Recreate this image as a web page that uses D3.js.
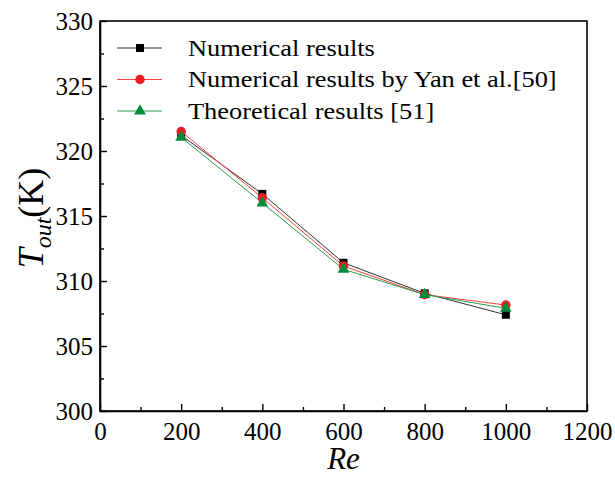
<!DOCTYPE html>
<html>
<head>
<meta charset="utf-8">
<script src="https://cdn.jsdelivr.net/npm/d3@7"></script>
</head>
<body style="margin:0;background:#fff">
<div id="chart"></div>
<script>
// values
const reValues = [200, 400, 600, 800, 1000];
const numerical = [321.2, 316.7, 311.4, 309.05, 307.4];
const yanResults = [321.5, 316.4, 311.15, 308.95, 308.15];
const theoretical = [321.05, 316.0, 310.9, 308.95, 307.9];
const seriesNames = ["Numerical results", "Numerical results by Yan et al.[50]", "Theoretical results [51]"];
const xTicks = [0, 200, 400, 600, 800, 1000, 1200];
const yTicks = [300, 305, 310, 315, 320, 325, 330];

const serif = "Liberation Serif";
const width = 615, height = 479;
const margin = {left: 100, right: 28, top: 21, bottom: 68};

const svg = d3.select("#chart").append("svg")
    .attr("width", width)
    .attr("height", height);

const x = d3.scaleLinear().domain([0, 1200]).range([margin.left, width - margin.right]);
const y = d3.scaleLinear().domain([300, 330]).range([height - margin.bottom, margin.top]);

// frame
svg.append("rect")
    .attr("x", x(0)).attr("y", y(330))
    .attr("width", x(1200) - x(0)).attr("height", y(300) - y(330))
    .attr("fill", "none").attr("stroke", "#000").attr("stroke-width", 1.6);

// axes with inward ticks, minor ticks in between
svg.append("g").attr("transform", `translate(0,${y(300)})`)
    .call(d3.axisBottom(x).tickValues(xTicks).tickFormat(d3.format("d"))
      .tickSizeInner(-7).tickSizeOuter(0).tickPadding(11));
svg.append("g").attr("transform", `translate(0,${y(300)})`)
    .call(d3.axisBottom(x).tickValues(d3.range(100, 1200, 200)).tickSize(-4).tickFormat(""))
    .call(g => g.select(".domain").remove());

svg.append("g").attr("transform", `translate(${x(0)},0)`)
    .call(d3.axisLeft(y).tickValues(yTicks).tickSizeInner(-7).tickSizeOuter(0).tickPadding(7));
svg.append("g").attr("transform", `translate(${x(0)},0)`)
    .call(d3.axisLeft(y).tickValues(d3.range(302.5, 330, 5)).tickSize(-4).tickFormat(""))
    .call(g => g.select(".domain").remove());

svg.selectAll(".domain").attr("stroke-width", 1.6);
svg.selectAll(".tick line").attr("stroke-width", 1.4);
svg.selectAll(".tick text")
    .style("font-family", serif)
    .style("font-size", "25px")
    .attr("fill", "#000");

// axis titles
svg.append("text")
    .attr("x", x(600)).attr("y", 469)
    .attr("text-anchor", "middle")
    .style("font-family", serif).style("font-size", "31px").style("font-style", "italic")
    .text("Re");

const yTitle = svg.append("text")
    .attr("transform", `translate(43,${y(315) + 2}) rotate(-90)`)
    .attr("text-anchor", "middle")
    .style("font-family", serif).style("font-size", "36px");
yTitle.append("tspan").style("font-style", "italic").text("T");
yTitle.append("tspan").style("font-style", "italic").style("font-size", "24px").attr("dy", 8).text("out");
yTitle.append("tspan").attr("dy", -8).text("(K)");

// series
const series = [
  {name: seriesNames[0], values: numerical, line: "#333", fill: "#000", shape: d3.symbolSquare, size: 64},
  {name: seriesNames[1], values: yanResults, line: "#ff4040", fill: "#ee1c25", shape: d3.symbolCircle, size: 70},
  {name: seriesNames[2], values: theoretical, line: "#2aa050", fill: "#008c3c", shape: d3.symbolTriangle, size: 60}
];

const line = d3.line().x((d, i) => x(reValues[i])).y(d => y(d));

series.forEach(s => {
  svg.append("path")
      .attr("d", line(s.values))
      .attr("fill", "none")
      .attr("stroke", s.line)
      .attr("stroke-width", 1);
});
series.forEach(s => {
  svg.selectAll(null)
      .data(s.values)
      .enter()
      .append("path")
      .attr("d", d3.symbol().type(s.shape).size(s.size))
      .attr("transform", (d, i) => `translate(${x(reValues[i])},${y(d)})`)
      .attr("fill", s.fill);
});

// legend
const legend = svg.append("g");
series.forEach((s, i) => {
  const ly = 48 + i * 31.5;
  legend.append("line")
      .attr("x1", 117).attr("x2", 162).attr("y1", ly).attr("y2", ly)
      .attr("stroke", s.line).attr("stroke-width", 1);
  legend.append("path")
      .attr("d", d3.symbol().type(s.shape).size(s.size))
      .attr("transform", `translate(140,${ly})`)
      .attr("fill", s.fill);
  legend.append("text")
      .attr("transform", `translate(188,${ly + 7.5}) scale(1.1,1)`)
      .style("font-family", serif).style("font-size", "24px")
      .text(s.name);
});
</script>
</body>
</html>
